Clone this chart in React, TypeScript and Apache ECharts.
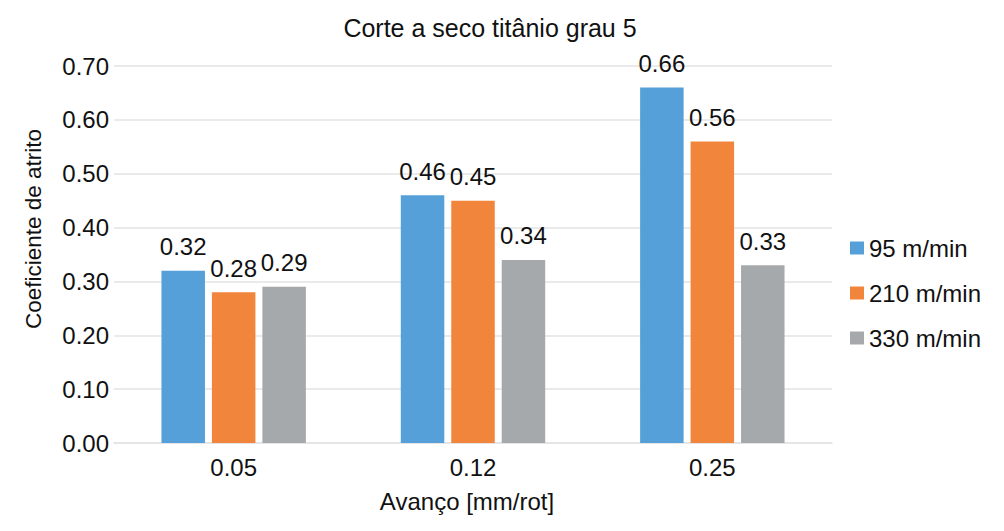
import React, { useEffect, useRef } from "react";
import * as echarts from "echarts";

const categories = ["0.05", "0.12", "0.25"];
const seriesNames = ["95 m/min", "210 m/min", "330 m/min"];
const v95 = [0.32, 0.46, 0.66];
const v210 = [0.28, 0.45, 0.56];
const v330 = [0.29, 0.34, 0.33];
const colors = ["#55a0d8", "#f0853b", "#a6a9ab"];

const FONT = "'Liberation Sans', Arial, sans-serif";

export default function App() {
  const ref = useRef<HTMLDivElement>(null);
  useEffect(() => {
    const chart = echarts.init(ref.current!, null, { renderer: "svg" });
    const values = [v95, v210, v330];
    const option: any = {
      animation: false,
      backgroundColor: "#ffffff",
      textStyle: { fontFamily: FONT, color: "#111" },
      grid: { left: 114, right: 172, top: 66, bottom: 88, containLabel: false },
      legend: {
        orient: "vertical",
        left: 845,
        top: 231,
        itemWidth: 14,
        itemHeight: 13,
        itemGap: 21,
        icon: "rect",
        textStyle: { fontSize: 24, fontFamily: FONT, color: "#111" },
        data: seriesNames,
      },
      xAxis: {
        type: "category",
        data: categories,
        axisLine: { show: true, lineStyle: { color: "#e3e3e3", width: 1.5 } },
        axisTick: { show: false },
        axisLabel: { fontSize: 24, fontFamily: FONT, color: "#111", margin: 12 },
        splitLine: { show: false },
      },
      yAxis: {
        type: "value",
        min: 0,
        max: 0.7,
        interval: 0.1,
        axisLine: { show: false },
        axisTick: { show: false },
        axisLabel: {
          fontSize: 24,
          fontFamily: FONT,
          color: "#111",
          margin: 5,
          formatter: (v: number) => v.toFixed(2),
        },
        splitLine: { show: true, lineStyle: { color: "#e3e3e3", width: 1.5 } },
      },
      series: seriesNames.map((name, i) => ({
        name,
        type: "bar",
        data: values[i],
        barWidth: 43.5,
        barGap: "16%",
        itemStyle: { color: colors[i] },
        label: {
          show: true,
          position: "top",
          distance: 12,
          fontSize: 24,
          fontFamily: FONT,
          color: "#111",
          formatter: (p: any) => Number(p.value).toFixed(2),
        },
      })),
      graphic: [
        {
          type: "text",
          x: 490,
          y: 28,
          style: {
            text: "Corte a seco titânio grau 5",
            fontSize: 25,
            fontFamily: FONT,
            fill: "#111",
            align: "center",
            verticalAlign: "middle",
          },
        },
        {
          type: "text",
          x: 33,
          y: 229,
          rotation: Math.PI / 2,
          style: {
            text: "Coeficiente de atrito",
            fontSize: 22.5,
            fontFamily: FONT,
            fill: "#111",
            align: "center",
            verticalAlign: "middle",
          },
        },
        {
          type: "text",
          x: 467,
          y: 501,
          style: {
            text: "Avanço [mm/rot]",
            fontSize: 24,
            fontFamily: FONT,
            fill: "#111",
            align: "center",
            verticalAlign: "middle",
          },
        },
      ],
    };
    chart.setOption(option);
    return () => chart.dispose();
  }, []);
  return (
    <div
      ref={ref}
      style={{ position: "fixed", left: 0, top: 0, width: 1004, height: 531 }}
    />
  );
}
